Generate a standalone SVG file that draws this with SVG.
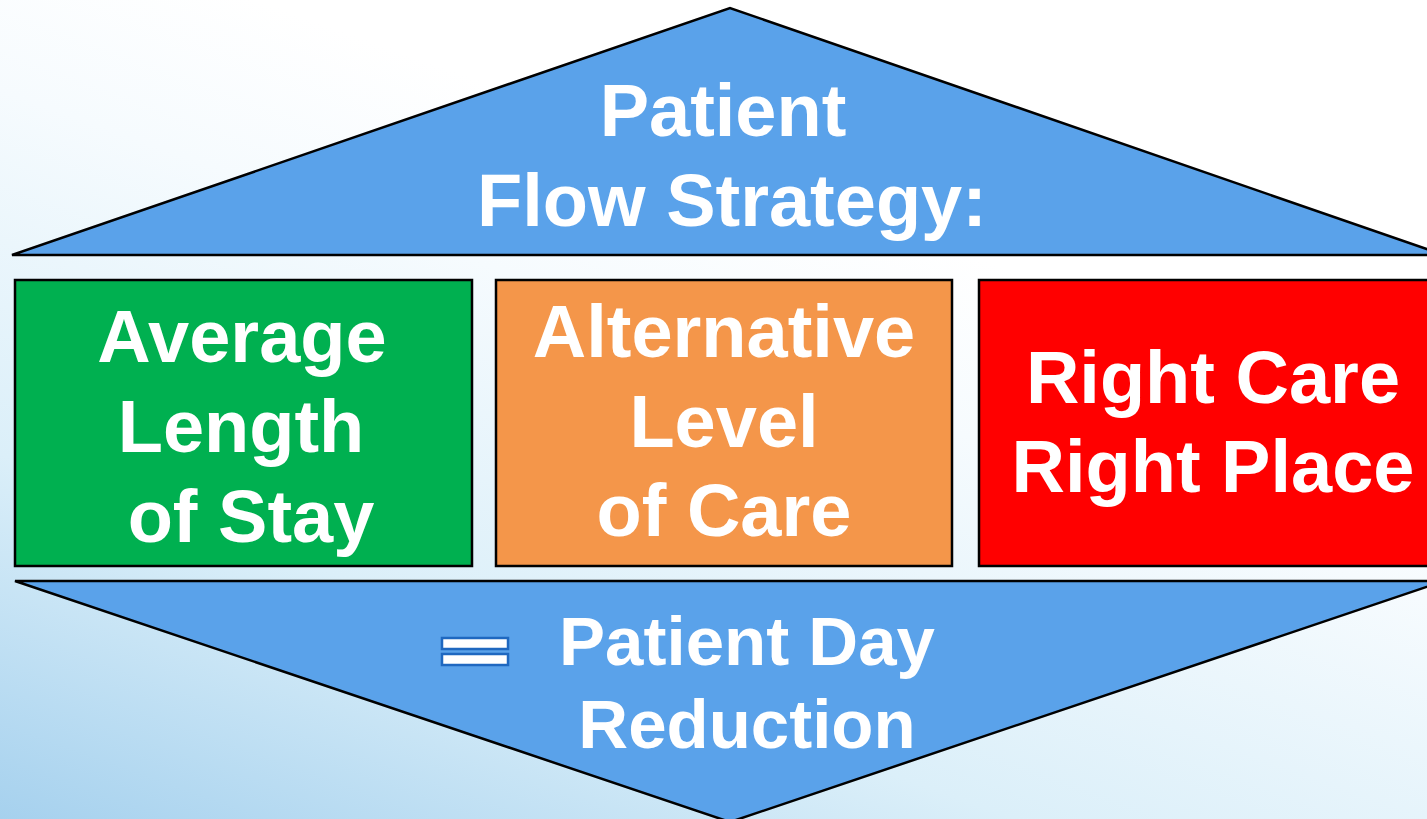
<svg xmlns="http://www.w3.org/2000/svg" width="1427" height="819" viewBox="0 0 1427 819">
  <defs>
    <linearGradient id="bg" x1="0" y1="1" x2="0.5" y2="0.2">
      <stop offset="0" stop-color="#a6d1ee"/>
      <stop offset="0.4" stop-color="#dbeff9"/>
      <stop offset="0.8" stop-color="#f6fbfe"/>
      <stop offset="1" stop-color="#ffffff"/>
    </linearGradient>
    <style>
      .arrow { fill: #5aa2ea; stroke: #000; stroke-width: 2.5; stroke-linejoin: miter; }
      .box { stroke: #000; stroke-width: 2.5; }
      .lbl { font-family: "Liberation Sans", Arial, sans-serif; font-weight: bold; font-size: 74px; fill: #fff; text-anchor: middle; }
      .sm { font-size: 69px; }
      .eq { fill: #fff; stroke: #1f68c0; stroke-width: 2.5; }
    </style>
  </defs>

  <rect width="1427" height="819" fill="url(#bg)"/>

  <!-- top chevron: heading -->
  <g id="heading">
    <polygon class="arrow" points="12,255 730,8 1444,255"/>
    <text class="lbl" x="723" y="136">Patient</text>
    <text class="lbl" x="732" y="226">Flow Strategy:</text>
  </g>

  <g id="alos">
    <rect class="box" x="15" y="280" width="457" height="286" fill="#00b050"/>
    <text class="lbl" x="242" y="362">Average</text>
    <text class="lbl" x="241" y="452">Length</text>
    <text class="lbl" x="251" y="542">of Stay</text>
  </g>

  <g id="alc">
    <rect class="box" x="496" y="280" width="456" height="286" fill="#f4964a"/>
    <text class="lbl" x="724" y="357">Alternative</text>
    <text class="lbl" x="724" y="447">Level</text>
    <text class="lbl" x="724" y="536">of Care</text>
  </g>

  <g id="rcrp">
    <rect class="box" x="979" y="280" width="460" height="286" fill="#ff0000"/>
    <text class="lbl" x="1213" y="403">Right Care</text>
    <text class="lbl" x="1213" y="492">Right Place</text>
  </g>

  <!-- bottom chevron: result -->
  <g id="result">
    <polygon class="arrow" points="15,581 1444,581 730,822"/>
    <rect class="eq" x="442" y="638" width="66" height="11"/>
    <rect class="eq" x="442" y="654" width="66" height="11"/>
    <text class="lbl sm" x="747" y="665">Patient Day</text>
    <text class="lbl sm" x="747" y="748">Reduction</text>
  </g>

  <g id="connectors"/>
</svg>
